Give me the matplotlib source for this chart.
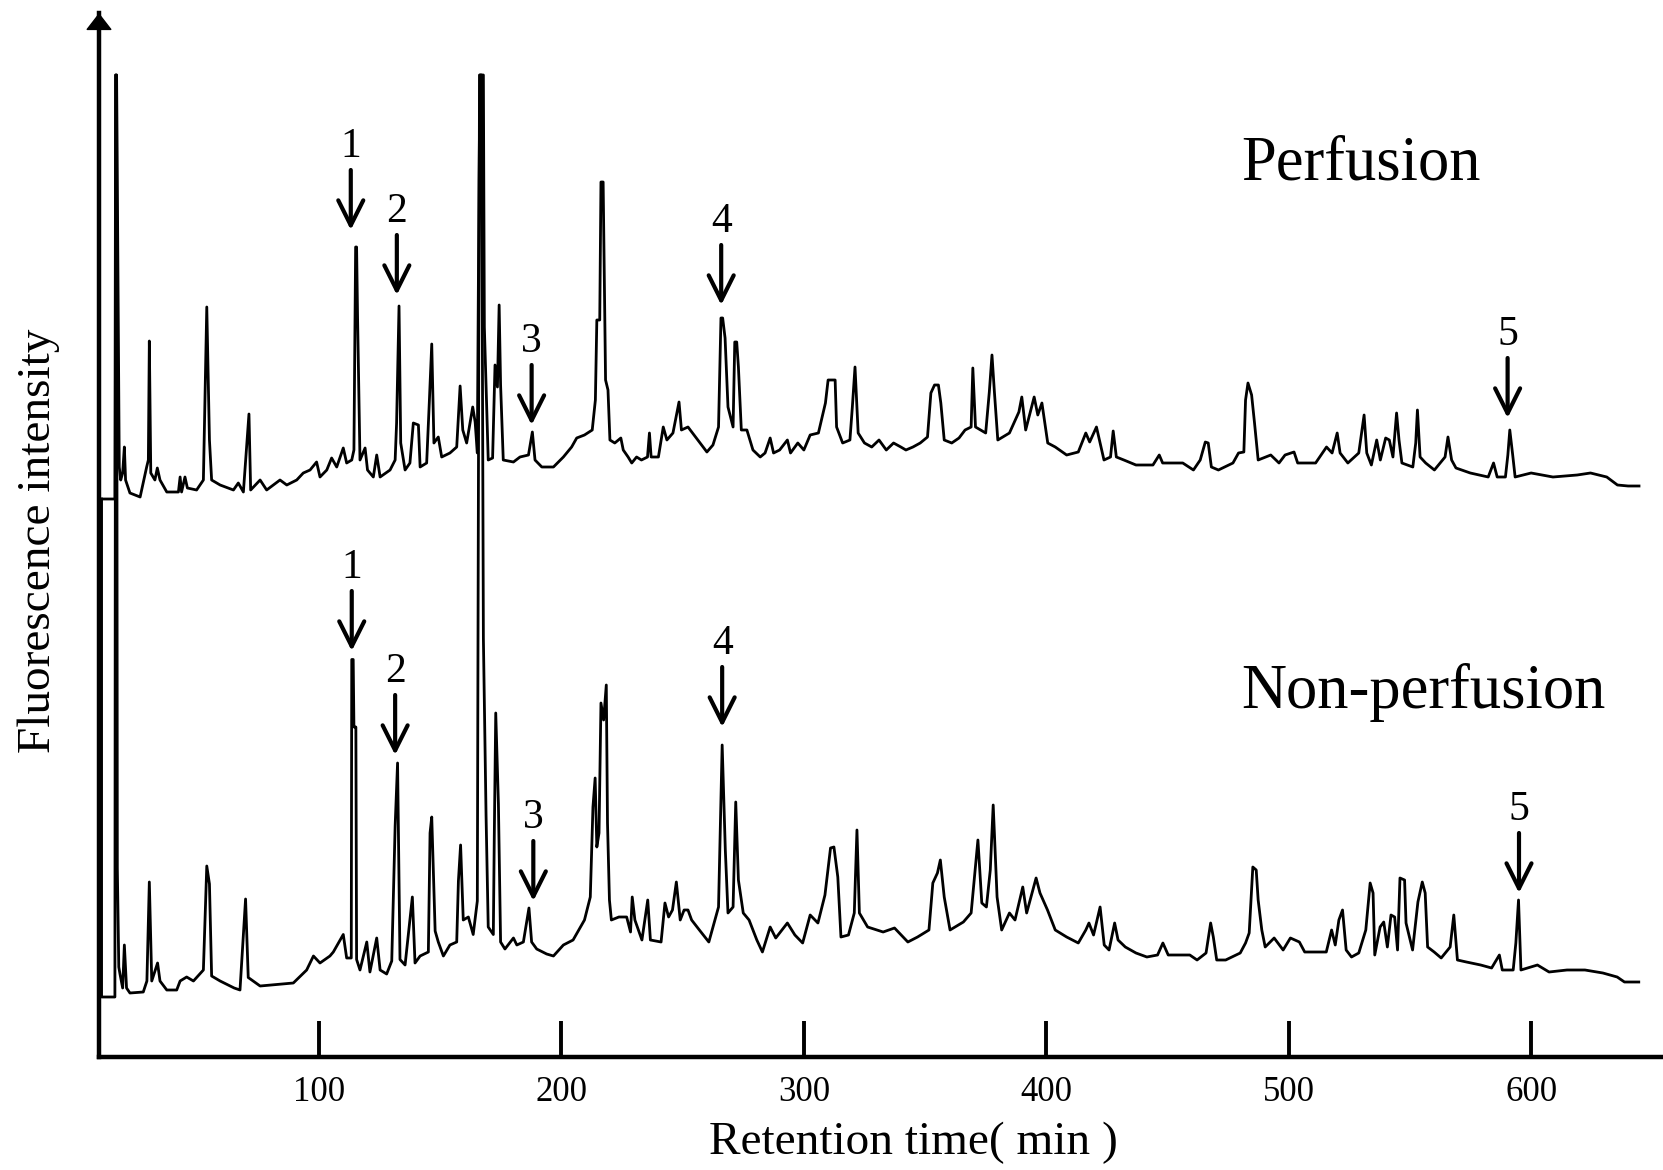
import numpy as np
import matplotlib
matplotlib.use('Agg')
import matplotlib.pyplot as plt

plt.rcParams['font.family'] = ['Liberation Serif', 'DejaVu Serif']

# retention time (min) / intensity above own baseline
perf_time = [10.3, 15.8, 16.1, 16.5, 17.2, 17.6, 18.2, 19.0, 19.7, 20.2, 22.0, 26.2, 28.9, 29.6, 30.0, 30.6,
             32.3, 33.3, 34.4, 37.2, 42.0, 42.7, 43.3, 44.7, 45.7, 49.5, 52.3, 53.7, 54.8, 55.7, 59.2, 64.7,
             66.7, 68.8, 71.1, 71.8, 75.7, 78.4, 83.9, 86.7, 90.8, 93.5, 96.3, 99.0, 100.4, 103.2, 105.2,
             107.3, 110.0, 111.4, 113.5, 114.4, 115.1, 115.5, 115.9, 116.9, 119.0, 120.0, 122.4, 123.8,
             125.2, 129.3, 131.4, 132.0, 133.0, 133.7, 135.5, 137.5, 138.9, 141.0, 141.7, 144.4, 145.5,
             146.5, 147.4, 149.2, 150.6, 154.0, 156.8, 158.2, 159.3, 160.9, 163.4, 164.4, 165.3, 166.0,
             166.4, 167.8, 168.2, 169.8, 171.6, 172.6, 173.6, 174.3, 174.9, 176.0, 180.2, 182.9, 186.4,
             188.0, 189.1, 191.9, 196.7, 200.8, 204.2, 206.3, 209.5, 212.7, 214.0, 214.6, 215.8, 216.3,
             217.2, 218.2, 219.2, 220.0, 222.0, 224.5, 225.5, 227.5, 229.0, 231.0, 233.0, 235.5, 236.3,
             237.0, 240.0, 242.0, 243.5, 246.0, 248.5, 249.5, 252.2, 255.3, 260.0, 262.5, 264.8, 265.8,
             266.5, 267.5, 268.7, 270.8, 271.5, 272.3, 273.0, 274.2, 276.5, 279.0, 282.0, 284.0, 286.1,
             287.5, 290.0, 293.2, 294.5, 297.5, 300.0, 302.6, 306.0, 308.9, 310.0, 312.9, 313.5, 316.0,
             319.0, 320.0, 321.1, 322.4, 325.0, 328.0, 331.0, 334.0, 337.0, 340.0, 342.1, 345.0, 348.0,
             351.0, 352.4, 353.9, 355.5, 356.5, 357.9, 361.0, 364.0, 366.5, 369.0, 369.7, 370.8, 375.0,
             376.5, 377.6, 378.6, 380.0, 384.8, 388.7, 389.9, 391.5, 395.0, 396.5, 398.2, 400.6, 403.7,
             408.4, 413.2, 416.3, 417.9, 420.7, 423.8, 426.5, 427.6, 428.9, 432.0, 437.0, 441.0, 444.0,
             446.6, 448.0, 453.0, 456.3, 460.7, 463.5, 465.6, 466.8, 468.1, 471.0, 477.0, 479.3, 481.5,
             482.2, 483.2, 484.7, 485.9, 487.4, 492.6, 496.0, 498.5, 502.2, 503.7, 511.1, 515.6, 517.9,
             520.0, 521.2, 524.4, 528.9, 531.1, 532.2, 534.1, 536.3, 537.8, 540.0, 541.5, 543.0, 544.5,
             545.5, 546.7, 551.2, 552.4, 553.1, 554.2, 556.5, 560.1, 564.5, 565.7, 567.2, 569.0, 574.9,
             582.3, 584.5, 586.0, 589.4, 590.4, 591.2, 592.4, 593.4, 600.0, 609.0, 619.0, 624.5, 631.2,
             635.6, 640.0, 644.5]
perf_signal = [0.0, 0.0, 42.4, 42.4, 18.2, 3.2, 1.9, 2.6, 5.2, 1.9, 0.6, 0.2, 3.2, 3.9, 15.8, 2.6,
               1.9, 3.1, 1.9, 0.7, 0.7, 2.2, 0.7, 2.2, 1.1, 0.9, 1.9, 19.2, 5.9, 1.9, 1.4, 0.9,
               1.6, 0.7, 8.5, 0.9, 1.9, 0.9, 1.9, 1.4, 1.9, 2.6, 2.9, 3.7, 2.2, 2.9, 4.1,
               3.2, 5.1, 3.6, 3.9, 4.9, 25.2, 25.2, 18.2, 3.9, 5.1, 2.9, 2.2, 4.4,
               2.2, 2.9, 3.9, 7.6, 19.3, 5.6, 2.9, 3.6, 7.6, 7.4, 3.2, 3.6, 9.7,
               15.5, 5.6, 6.2, 4.2, 4.6, 5.2, 11.3, 6.9, 5.6, 9.2, 7.7, 4.6, 31.9,
               42.4, 42.4, 17.2, 3.9, 4.1, 13.4, 11.2, 19.4, 11.4, 3.9, 3.7, 4.2, 4.4,
               6.7, 3.9, 3.2, 3.2, 4.2, 5.2, 6.1, 6.4, 6.9, 9.9, 17.9, 17.9, 31.7,
               31.7, 11.9, 10.9, 5.9, 5.6, 6.1, 4.9, 4.2, 3.6, 4.2, 3.9, 4.2, 6.6,
               4.2, 4.2, 7.2, 5.9, 6.6, 9.7, 6.9, 7.2, 6.2, 4.7, 5.4, 7.2, 18.1,
               18.1, 16.1, 9.2, 7.2, 15.7, 15.7, 13.2, 6.9, 6.9, 4.9, 4.2, 4.6, 6.1,
               4.6, 4.9, 5.9, 4.6, 5.6, 4.9, 6.4, 6.6, 9.6, 11.9, 11.9, 7.2, 5.6,
               5.9, 9.2, 13.2, 6.6, 5.6, 5.2, 5.9, 4.9, 5.6, 5.2, 4.9, 5.2, 5.6,
               6.2, 10.6, 11.4, 11.4, 9.6, 5.9, 5.6, 6.1, 6.9, 7.2, 13.1, 7.2, 6.6,
               10.7, 14.4, 10.7, 5.9, 6.6, 8.7, 10.2, 6.9, 10.2, 8.4, 9.6, 5.6, 5.2,
               4.4, 4.7, 6.6, 5.7, 7.2, 3.9, 4.2, 6.8, 4.2, 3.9, 3.4, 3.4, 3.4,
               4.4, 3.6, 3.6, 3.6, 2.9, 3.9, 5.7, 5.6, 3.2, 2.9, 3.6, 4.6, 4.7,
               9.9, 11.6, 10.4, 7.6, 3.9, 4.4, 3.6, 4.4, 4.7, 3.6, 3.6, 5.2, 4.6,
               6.6, 4.6, 3.6, 4.6, 8.4, 4.6, 3.4, 5.9, 3.9, 6.1, 5.9, 4.2, 8.6,
               5.9, 3.6, 3.2, 5.6, 8.9, 4.2, 3.6, 2.9, 4.2, 6.2, 3.9, 3.1, 2.6,
               2.2, 3.6, 2.2, 2.2, 4.4, 6.9, 4.4, 2.2, 2.6, 2.2, 2.4, 2.6, 2.2,
               1.4, 1.3, 1.3]

non_time = [10.3, 10.3, 15.8, 16.1, 16.5, 16.8, 17.4, 17.9, 19.0, 19.7, 20.6, 22.0, 27.5, 29.0, 30.0,
            31.0, 33.4, 34.4, 37.2, 41.3, 42.7, 45.4, 48.2, 52.3, 53.7, 54.8, 55.7, 59.2, 65.0, 67.4,
            69.7, 70.8, 75.7, 82.5, 89.4, 94.9, 97.7, 100.4, 104.5, 105.9, 110.0, 111.4, 113.3, 113.5,
            114.1, 114.4, 115.2, 115.5, 116.9, 119.7, 121.0, 123.8, 125.2, 127.9, 130.0, 131.4, 132.4,
            133.4, 135.5, 138.5, 139.6, 141.7, 145.1, 145.8, 146.5, 147.9, 149.2, 151.3, 154.0, 156.8,
            157.5, 158.4, 159.5, 161.6, 163.6, 165.3, 166.2, 167.0, 167.8, 168.9, 169.8, 171.9, 172.3,
            172.9, 174.0, 174.9, 176.7, 180.2, 181.6, 184.3, 186.6, 187.7, 189.8, 193.9, 196.7, 200.8,
            204.8, 209.5, 211.9, 213.0, 213.9, 214.6, 215.5, 216.3, 217.4, 218.5, 219.0, 219.8, 220.6,
            223.7, 226.9, 228.5, 229.2, 230.3, 233.2, 235.6, 236.7, 241.1, 242.7, 244.2, 245.8, 247.4,
            249.0, 250.6, 252.2, 253.7, 256.9, 260.8, 264.8, 266.3, 267.6, 268.7, 270.8, 271.9, 273.0,
            275.0, 277.4, 280.6, 282.9, 286.1, 288.4, 293.2, 296.3, 299.5, 302.6, 305.8, 308.7, 311.0,
            312.4, 314.0, 315.3, 318.4, 320.8, 321.9, 322.9, 326.3, 332.7, 337.4, 342.9, 346.9, 351.6,
            353.2, 355.1, 356.3, 357.9, 360.3, 365.8, 369.0, 371.8, 373.4, 375.3, 376.9, 378.1, 379.7,
            381.6, 384.8, 387.1, 390.3, 391.9, 395.8, 397.4, 400.5, 403.7, 408.4, 413.2, 416.3, 417.6,
            419.5, 422.2, 423.9, 425.9, 428.2, 429.6, 432.6, 437.0, 441.5, 445.9, 448.1, 450.3, 459.2,
            462.2, 465.9, 467.8, 468.9, 470.3, 474.0, 480.0, 482.2, 483.7, 485.2, 486.6, 487.4, 488.9,
            490.3, 494.0, 497.7, 500.7, 504.4, 506.6, 511.1, 515.5, 517.7, 519.2, 520.7, 522.2, 523.7,
            525.9, 528.9, 531.8, 533.6, 534.8, 535.5, 537.7, 539.2, 540.7, 542.2, 543.7, 544.9, 545.9,
            547.8, 548.4, 551.1, 553.3, 555.1, 556.3, 557.3, 560.0, 562.9, 566.6, 568.1, 569.6, 573.3,
            579.2, 583.7, 586.9, 588.1, 592.6, 593.7, 594.8, 595.8, 602.6, 607.4, 614.8, 622.2, 629.6,
            635.5, 638.5, 644.4]
non_signal = [49.8, 0.0, 0.0, 92.2, 92.2, 12.9, 3.0, 2.3, 0.9, 5.2, 0.9, 0.4, 0.5, 1.6, 11.5,
              1.6, 3.4, 1.6, 0.7, 0.7, 1.6, 2.0, 1.6, 2.7, 13.1, 11.3, 2.1, 1.6, 0.9, 0.7,
              9.8, 1.95, 1.1, 1.25, 1.4, 2.7, 4.1, 3.4, 4.1, 4.5, 6.25, 3.9, 3.9, 33.75,
              33.75, 27.0, 27.0, 3.75, 2.7, 5.5, 2.5, 5.9, 2.7, 2.3, 3.6, 17.1, 23.4,
              3.75, 3.2, 10.0, 3.4, 4.1, 4.5, 16.4, 18.0, 6.6, 5.5, 4.1, 5.2, 5.5,
              11.6, 15.2, 7.7, 8.0, 6.25, 9.6, 92.2, 92.2, 35.9, 18.2, 7.0, 6.25, 16.1,
              28.4, 19.3, 5.5, 4.8, 5.9, 5.2, 5.5, 8.9, 5.5, 4.8, 4.3, 4.1, 5.2,
              5.7, 7.7, 10.0, 19.0, 21.9, 15.0, 16.4, 29.4, 27.7, 31.2, 17.4, 9.7, 7.7,
              8.0, 8.0, 6.5, 10.0, 7.7, 5.7, 9.7, 5.7, 5.5, 9.4, 8.0, 8.7, 11.5,
              7.7, 8.7, 8.7, 7.7, 6.7, 5.5, 9.0, 25.2, 14.7, 8.4, 9.0, 19.5, 11.7,
              8.4, 7.7, 5.7, 4.5, 7.0, 5.9, 7.4, 6.2, 5.4, 8.2, 7.4, 10.2, 14.9,
              15.0, 12.0, 6.0, 6.2, 8.4, 16.7, 8.4, 7.0, 6.5, 6.9, 5.5, 6.0, 6.7,
              11.4, 12.4, 13.7, 10.0, 6.7, 7.5, 8.4, 15.7, 9.4, 9.0, 12.7, 19.2, 10.0,
              6.7, 8.4, 7.7, 11.0, 8.4, 11.9, 10.4, 8.7, 6.7, 6.0, 5.4, 6.7, 7.4,
              6.2, 9.0, 5.2, 4.7, 7.4, 5.7, 5.0, 4.4, 4.0, 4.2, 5.4, 4.2, 4.2,
              3.7, 4.4, 7.4, 6.0, 3.7, 3.7, 4.4, 5.4, 6.4, 13.0, 12.7, 9.7, 6.7,
              5.0, 5.9, 4.7, 5.9, 5.5, 4.5, 4.5, 4.5, 6.7, 5.2, 7.7, 8.7, 4.7,
              4.0, 4.4, 6.7, 11.4, 10.4, 4.2, 7.0, 7.5, 5.0, 8.2, 8.0, 4.7, 11.9,
              11.7, 7.4, 4.7, 9.5, 11.5, 10.4, 5.0, 4.5, 3.9, 5.0, 8.2, 3.7, 3.5,
              3.2, 2.9, 4.2, 2.7, 2.7, 5.4, 9.7, 2.7, 3.2, 2.5, 2.7, 2.7, 2.4,
              2.0, 1.5, 1.5]

perf_offset = 55.8
non_offset = 6.0

x_ticks = [100, 200, 300, 400, 500, 600]

# marked peaks: arrow x position and arrow tip height (absolute axis units)
peak_labels = ['1', '2', '3', '4', '5']
perf_arrow_t = [113.1, 132.1, 187.7, 265.9, 590.3]
perf_arrow_tip = [82.7, 76.2, 63.2, 75.2, 63.9]
non_arrow_t = [113.5, 131.4, 188.4, 266.3, 595.0]
non_arrow_tip = [40.6, 30.2, 15.6, 33.0, 16.4]

W, H = 1663, 1170
fig = plt.figure(figsize=(W / 100, H / 100), dpi=100)
ax = fig.add_axes([99 / W, 113 / H, 1564 / W, 1044 / H])

ax.plot(perf_time, np.array(perf_signal) + perf_offset, color='black', lw=2)
ax.plot(non_time, np.array(non_signal) + non_offset, color='black', lw=2)

ax.set_xlim(9.24, 654.4)
ax.set_ylim(0, 104.4)

for sp in ['top', 'right']:
    ax.spines[sp].set_visible(False)
ax.spines['left'].set_linewidth(3.2)
ax.spines['bottom'].set_linewidth(3.2)

ax.set_xticks(x_ticks)
ax.set_xticklabels([str(v) for v in x_ticks], fontsize=25)
ax.set_yticks([])
ax.tick_params(axis='x', direction='in', length=26, width=2.8, pad=14)

# arrow head on the y axis
ax.annotate('', xy=(0, 1.0), xytext=(0, 0.97), xycoords='axes fraction',
            arrowprops=dict(arrowstyle='-|>,head_length=1.1,head_width=0.85',
                            mutation_scale=10, color='black', lw=1,
                            shrinkA=0, shrinkB=0), annotation_clip=False)

for ts, tips in [(perf_arrow_t, perf_arrow_tip), (non_arrow_t, non_arrow_tip)]:
    for lab, t, tip in zip(peak_labels, ts, tips):
        ax.annotate('', xy=(t, tip), xytext=(t, tip + 6.0),
                    arrowprops=dict(arrowstyle='->,head_length=0.9,head_width=0.45',
                                    mutation_scale=20, color='black', lw=3,
                                    shrinkA=0, shrinkB=0))
        ax.text(t, tip + 7.3, lab, ha='center', va='baseline', fontsize=30)

ax.text(480.4, 87.7, 'Perfusion', ha='left', va='baseline', fontsize=45)
ax.text(480.4, 34.9, 'Non-perfusion', ha='left', va='baseline', fontsize=45)

fig.text(913 / W, 1 - 1143 / H, 'Retention time( min )', ha='center', va='center', fontsize=34)
fig.text(39 / W, 1 - 541 / H, 'Fluorescence intensity', ha='center', va='center',
         rotation=90, fontsize=34)

fig.savefig('out.png', dpi=100)
